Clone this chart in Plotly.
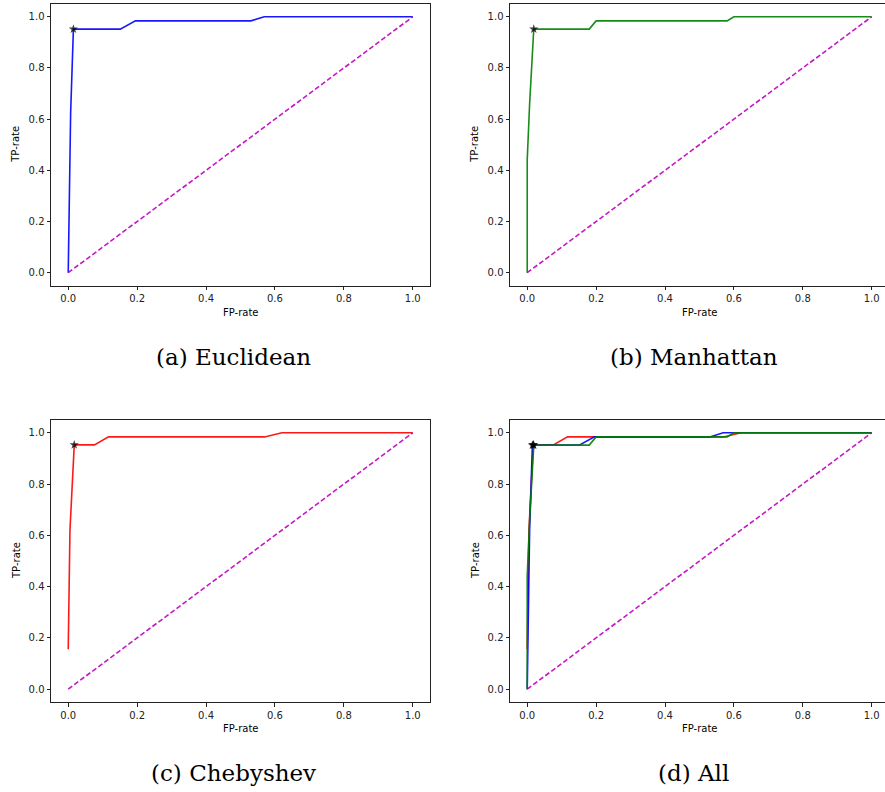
import plotly.graph_objects as go

W, H = 885, 792

# ---- data ----
euc_fpr = [0.0, 0.007, 0.015, 0.151, 0.195, 0.53, 0.569, 1.0]
euc_tpr = [0.0, 0.624, 0.952, 0.952, 0.984, 0.984, 1.0, 1.0]
euc_best = (0.015, 0.952)

man_fpr = [0.0, 0.0, 0.007, 0.019, 0.18, 0.2, 0.58, 0.6, 1.0]
man_tpr = [0.0, 0.44, 0.66, 0.952, 0.952, 0.984, 0.984, 1.0, 1.0]
man_best = (0.019, 0.952)

che_fpr = [0.0, 0.005, 0.0175, 0.076, 0.117, 0.57, 0.62, 1.0]
che_tpr = [0.156, 0.62, 0.953, 0.953, 0.984, 0.984, 1.0, 1.0]
che_best = (0.0175, 0.953)

diag = [0.0, 1.0]
ticks = [0.0, 0.2, 0.4, 0.6, 0.8, 1.0]
captions = ["(a) Euclidean", "(b) Manhattan", "(c) Chebyshev", "(d) All"]

BLUE, GREEN, RED, MAG = "#0000ff", "#008000", "#ff0000", "#bf00bf"

# ---- layout geometry (pixels) ----
panels = [
    dict(x0=51, x1=430, y0=4, y1=285.5, xr=[-0.05, 1.05], cap=233.5),
    dict(x0=510, x1=885, y0=4, y1=285.5, xr=[-0.05, (885 - 527.7) / 344], cap=693.5),
    dict(x0=51, x1=430, y0=420, y1=702, xr=[-0.05, 1.05], cap=233.5),
    dict(x0=510, x1=885, y0=420, y1=702, xr=[-0.05, (885 - 527.7) / 344], cap=693.5),
]

fig = go.Figure()

def add_line(i, x, y, color, dash=None):
    fig.add_trace(go.Scatter(
        x=x, y=y, mode="lines",
        line=dict(color=color, width=1.6, dash=dash),
        opacity=0.9,
        xaxis="x" if i == 0 else f"x{i+1}",
        yaxis="y" if i == 0 else f"y{i+1}",
        showlegend=False, hoverinfo="skip"))

def add_star(i, pt):
    fig.add_trace(go.Scatter(
        x=[pt[0]], y=[pt[1]], mode="markers",
        marker=dict(symbol="star", size=7, color="rgba(0,0,0,0.75)", line=dict(width=0)),
        xaxis="x" if i == 0 else f"x{i+1}",
        yaxis="y" if i == 0 else f"y{i+1}",
        showlegend=False, hoverinfo="skip"))

# (a)
add_line(0, euc_fpr, euc_tpr, BLUE)
add_line(0, diag, diag, MAG, "5px,2.5px")
add_star(0, euc_best)
# (b)
add_line(1, man_fpr, man_tpr, GREEN)
add_line(1, diag, diag, MAG, "5px,2.5px")
add_star(1, man_best)
# (c)
add_line(2, che_fpr, che_tpr, RED)
add_line(2, diag, diag, MAG, "5px,2.5px")
add_star(2, che_best)
# (d)
add_line(3, che_fpr, che_tpr, RED)
add_line(3, euc_fpr, euc_tpr, BLUE)
add_line(3, man_fpr, man_tpr, GREEN)
add_line(3, diag, diag, MAG, "5px,2.5px")
add_star(3, che_best)
add_star(3, euc_best)
add_star(3, man_best)

layout = dict(
    width=W, height=H, margin=dict(l=0, r=0, t=0, b=0),
    paper_bgcolor="white", plot_bgcolor="white", showlegend=False,
    font=dict(family="DejaVu Sans", size=10, color="#000000"),
)
annotations = []
for i, p in enumerate(panels):
    sx = "" if i == 0 else str(i + 1)
    right_cut = i in (1, 3)
    common = dict(showgrid=False, zeroline=False, showline=True, linecolor="#222222",
                  linewidth=1, ticks="outside", ticklen=3.5, tickwidth=0.8,
                  tickcolor="#222222", tickvals=ticks, tickformat=".1f",
                  tickfont=dict(size=10, family="DejaVu Sans", color="#222222"))
    layout["xaxis" + sx] = dict(common, domain=[p["x0"] / W, p["x1"] / W],
                                range=p["xr"], mirror=True,
                                anchor="y" + sx)
    layout["yaxis" + sx] = dict(common, domain=[1 - p["y1"] / H, 1 - p["y0"] / H],
                                range=[-0.05, 1.05], mirror=not right_cut,
                                anchor="x" + sx)
    cx = (p["x0"] + (p["x1"] if not right_cut else 889)) / 2
    annotations.append(dict(text="FP-rate", x=cx / W, y=1 - (p["y1"] + 26.5) / H,
                            xref="paper", yref="paper", showarrow=False,
                            xanchor="center", yanchor="middle",
                            font=dict(size=10, family="DejaVu Sans", color="#000")))
    annotations.append(dict(text="TP-rate", x=(p["x0"] - 35) / W,
                            y=1 - ((p["y0"] + p["y1"]) / 2) / H,
                            xref="paper", yref="paper", showarrow=False, textangle=-90,
                            xanchor="center", yanchor="middle",
                            font=dict(size=10, family="DejaVu Sans", color="#000")))
    annotations.append(dict(text=captions[i], x=p["cap"] / W, y=1 - (p["y1"] + 71) / H,
                            xref="paper", yref="paper", showarrow=False,
                            xanchor="center", yanchor="middle",
                            font=dict(size=23, family="DejaVu Serif", color="#000")))
layout["annotations"] = annotations
fig.update_layout(**layout)

fig.write_html("out.html")
